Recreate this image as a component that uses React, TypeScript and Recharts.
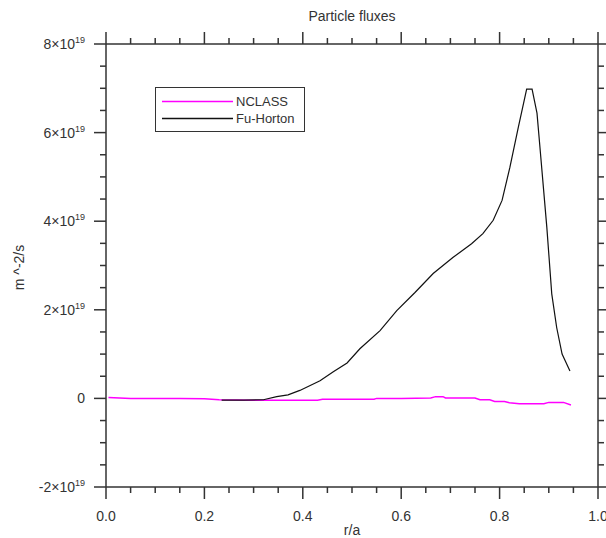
import React from "react";
import { LineChart, Line, XAxis, YAxis, Label } from "recharts";

// r/a positions and fluxes in units of 1e19 m^-2/s
const nclassR = [0.005, 0.05, 0.1, 0.15, 0.2, 0.23, 0.3, 0.35, 0.43, 0.44, 0.5, 0.545, 0.55, 0.6, 0.66, 0.67, 0.685, 0.69, 0.75, 0.76, 0.78, 0.79, 0.81, 0.82, 0.84, 0.89, 0.9, 0.93, 0.945];
const nclassFlux = [0.02, 0.0, 0.0, 0.0, -0.01, -0.03, -0.04, -0.04, -0.04, -0.02, -0.02, -0.02, 0.0, 0.0, 0.01, 0.04, 0.04, 0.01, 0.01, -0.03, -0.03, -0.07, -0.07, -0.1, -0.12, -0.12, -0.09, -0.09, -0.15];

const fuHortonR = [0.235, 0.28, 0.32, 0.347, 0.37, 0.394, 0.435, 0.462, 0.49, 0.516, 0.557, 0.591, 0.628, 0.665, 0.705, 0.743, 0.766, 0.787, 0.805, 0.821, 0.838, 0.855, 0.866, 0.876, 0.882, 0.896, 0.906, 0.916, 0.927, 0.943];
const fuHortonFlux = [-0.04, -0.04, -0.03, 0.04, 0.08, 0.18, 0.4, 0.6, 0.8, 1.12, 1.53, 1.98, 2.39, 2.82, 3.18, 3.49, 3.72, 4.02, 4.47, 5.22, 6.12, 6.98, 6.98, 6.44, 5.67, 3.86, 2.36, 1.6, 1.0, 0.62];

const xTicks = [0, 0.05, 0.1, 0.15, 0.2, 0.25, 0.3, 0.35, 0.4, 0.45, 0.5, 0.55, 0.6, 0.65, 0.7, 0.75, 0.8, 0.85, 0.9, 0.95, 1.0];
const yTicks = [-2, -1.5, -1, -0.5, 0, 0.5, 1, 1.5, 2, 2.5, 3, 3.5, 4, 4.5, 5, 5.5, 6, 6.5, 7, 7.5, 8];

const seriesNames = ["NCLASS", "Fu-Horton"];
const seriesColors = ["#ff00ff", "#111"];

const nclassData = nclassR.map((r, i) => ({ r, v: nclassFlux[i] }));
const fuHortonData = fuHortonR.map((r, i) => ({ r, v: fuHortonFlux[i] }));

const FONT = "'Liberation Sans', Arial, sans-serif";
const AXIS = "#333";
const TEXT = "#333";
const MAJOR = 12;
const MINOR = 6;

const isMajorX = (v: number) => Math.abs(v * 5 - Math.round(v * 5)) < 1e-6;
const isMajorY = (v: number) => Math.abs(v / 2 - Math.round(v / 2)) < 1e-6;

const BottomTick = (props: any) => {
  const { x, y, payload } = props;
  const major = isMajorX(payload.value);
  return (
    <g>
      <line x1={x} x2={x} y1={y} y2={y + (major ? MAJOR : MINOR)} stroke={AXIS} strokeWidth={1.5} />
      {major && (
        <text x={x} y={y + 34} textAnchor="middle" fontSize={14} fill={TEXT} fontFamily={FONT}>
          {payload.value.toFixed(1)}
        </text>
      )}
    </g>
  );
};

const TopTick = (props: any) => {
  const { x, y, payload } = props;
  const major = isMajorX(payload.value);
  return <line x1={x} x2={x} y1={y} y2={y - (major ? MAJOR : MINOR)} stroke={AXIS} strokeWidth={1.5} />;
};

const LeftTick = (props: any) => {
  const { x, y, payload } = props;
  const v = payload.value;
  const major = isMajorY(v);
  return (
    <g>
      <line x1={x} x2={x - (major ? MAJOR : MINOR)} y1={y} y2={y} stroke={AXIS} strokeWidth={1.5} />
      {major && (
        <text x={x - 21} y={y + 5} textAnchor="end" fontSize={14} fill={TEXT} fontFamily={FONT}>
          {v === 0 ? (
            "0"
          ) : (
            <>
              <tspan>{`${v}\u00d710`}</tspan>
              <tspan dy={-6} fontSize={9}>19</tspan>
            </>
          )}
        </text>
      )}
    </g>
  );
};

const RightTick = (props: any) => {
  const { x, y, payload } = props;
  const major = isMajorY(payload.value);
  return <line x1={x} x2={x + (major ? MAJOR : MINOR)} y1={y} y2={y} stroke={AXIS} strokeWidth={1.5} />;
};

const LegendBox = () => (
  <div
    style={{
      position: "absolute",
      left: 155,
      top: 87,
      width: 150,
      height: 45,
      border: "1.5px solid #333",
      background: "#fff",
      fontFamily: FONT,
      fontSize: 13,
      color: TEXT,
      boxSizing: "border-box",
      paddingTop: 5,
    }}
  >
    {seriesNames.map((name, i) => (
      <div key={name} style={{ display: "flex", alignItems: "center", height: 17, lineHeight: "17px" }}>
        <svg width={80} height={17}>
          <line x1={6} x2={77} y1={8.5} y2={8.5} stroke={seriesColors[i]} strokeWidth={1.5} />
        </svg>
        <span>{name}</span>
      </div>
    ))}
  </div>
);

export default function App() {
  return (
    <div style={{ position: "absolute", left: 0, top: 0, width: 606, height: 538, background: "#fff" }}>
      <div
        style={{
          position: "absolute",
          left: 0,
          width: 704,
          top: 8,
          textAlign: "center",
          fontFamily: FONT,
          fontSize: 14,
          color: TEXT,
        }}
      >
        Particle fluxes
      </div>
      <LineChart width={606} height={538} margin={{ top: 0, right: 0, bottom: 0, left: 0 }}>
        <XAxis
          xAxisId="b"
          type="number"
          dataKey="r"
          domain={[0, 1]}
          ticks={xTicks}
          interval={0}
          tickSize={0}
          tickMargin={0}
          tickLine={false}
          tick={<BottomTick />}
          axisLine={{ stroke: AXIS, strokeWidth: 1.5 }}
          height={51}
          allowDataOverflow
        >
          <Label
            content={(p: any) => (
              <text
                x={p.viewBox.x + p.viewBox.width / 2}
                y={p.viewBox.y + 48}
                textAnchor="middle"
                fontSize={14}
                fill={TEXT}
                fontFamily={FONT}
              >
                r/a
              </text>
            )}
          />
        </XAxis>
        <XAxis
          xAxisId="t"
          orientation="top"
          type="number"
          dataKey="r"
          domain={[0, 1]}
          ticks={xTicks}
          interval={0}
          tickSize={0}
          tickMargin={0}
          tickLine={false}
          tick={<TopTick />}
          axisLine={{ stroke: AXIS, strokeWidth: 1.5 }}
          height={44}
          allowDataOverflow
        />
        <YAxis
          yAxisId="l"
          type="number"
          domain={[-2, 8]}
          ticks={yTicks}
          interval={0}
          tickSize={0}
          tickMargin={0}
          tickLine={false}
          tick={<LeftTick />}
          axisLine={{ stroke: AXIS, strokeWidth: 1.5 }}
          width={106}
          allowDataOverflow
        >
          <Label
            content={(p: any) => {
              const cx = p.viewBox.x + 19;
              const cy = p.viewBox.y + p.viewBox.height / 2 + 2;
              return (
                <text
                  x={cx}
                  y={cy}
                  transform={`rotate(-90 ${cx} ${cy})`}
                  textAnchor="middle"
                  dominantBaseline="central"
                  fontSize={14}
                  fill={TEXT}
                  fontFamily={FONT}
                >
                  m ^-2/s
                </text>
              );
            }}
          />
        </YAxis>
        <YAxis
          yAxisId="r"
          orientation="right"
          type="number"
          domain={[-2, 8]}
          ticks={yTicks}
          interval={0}
          tickSize={0}
          tickMargin={0}
          tickLine={false}
          tick={<RightTick />}
          axisLine={{ stroke: AXIS, strokeWidth: 1.5 }}
          width={8}
          allowDataOverflow
        />
        <Line
          xAxisId="b"
          yAxisId="l"
          data={nclassData}
          dataKey="v"
          type="linear"
          stroke={seriesColors[0]}
          strokeWidth={1.5}
          dot={false}
          isAnimationActive={false}
          name={seriesNames[0]}
        />
        <Line
          xAxisId="b"
          yAxisId="l"
          data={fuHortonData}
          dataKey="v"
          type="linear"
          stroke={seriesColors[1]}
          strokeWidth={1.2}
          dot={false}
          isAnimationActive={false}
          name={seriesNames[1]}
        />
      </LineChart>
      <LegendBox />
    </div>
  );
}
